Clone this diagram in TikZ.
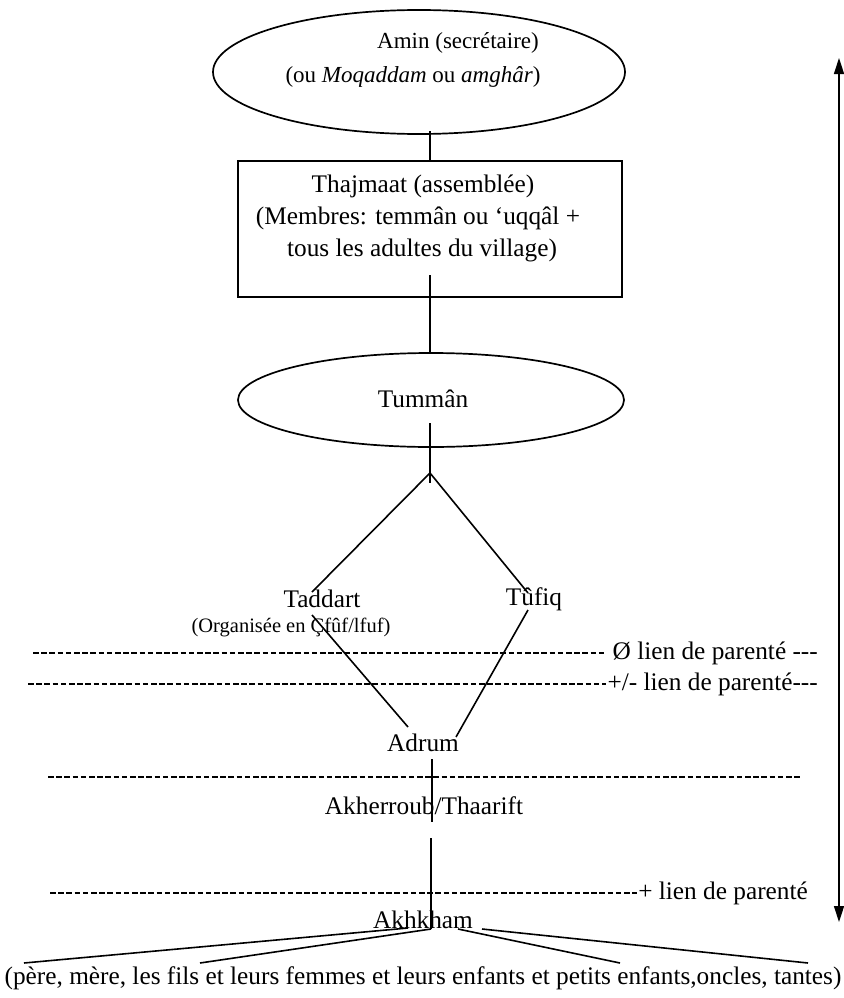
\documentclass[tikz,border=0pt]{standalone}
\usepackage{fontspec}
\setmainfont{Liberation Serif}
\usetikzlibrary{shapes.geometric,arrows.meta}
\begin{document}
\begin{tikzpicture}[x=1pt,y=-1pt,
  ln/.style={line width=1.6pt},
  shp/.style={draw, line width=1.7pt, inner sep=0pt},
  txt/.style={inner sep=0pt, font=\fontsize{25.3}{30}\selectfont},
  toptxt/.style={inner sep=0pt, font=\fontsize{23}{27}\selectfont},
  smalltxt/.style={inner sep=0pt, font=\fontsize{20.5}{24}\selectfont},
  dsh/.style={line width=1.1pt, dash pattern=on 5.5pt off 2.7pt}]
\useasboundingbox (0,0) rectangle (843,998);
% top ellipse
\node[shp, ellipse, minimum width=412pt, minimum height=124pt] (amin) at (419,72) {};
\node[toptxt] (t1) at (458,43) {Amin (secrétaire)};
\node[toptxt] (t2) at (413,77) {(ou \textit{Moqaddam} ou \textit{amghâr})};
% rectangle
\node[shp, rectangle, minimum width=384pt, minimum height=136pt] (thaj) at (430,229) {};
\node[txt] (r1) at (423,186) {Thajmaat (assemblée)};
\node[txt] (r2) at (418,218) {(Membres: temmân ou ‘uqqâl +};
\node[txt] (r3) at (422,250) {tous les adultes du village)};
% tumman
\node[shp, ellipse, minimum width=386pt, minimum height=94pt] (tum) at (431,400) {};
\node[txt] (tumt) at (423,399) {Tummân};
% coordinates
\coordinate (a1) at (430,131);
\coordinate (a2) at (430,161);
\coordinate (b1) at (430,275);
\coordinate (b2) at (430,353);
\coordinate (c1) at (430,423);
\coordinate (c2) at (430,483);
\coordinate (apex) at (430,473);
\coordinate (tl1) at (312,592);
\coordinate (tr1) at (528,593);
\coordinate (tl2) at (312,615);
\coordinate (tr2) at (528,610);
\coordinate (al) at (408,727);
\coordinate (ar) at (456,737);
\coordinate (s1a) at (432,759);
\coordinate (s1b) at (432,822);
\coordinate (s2a) at (431,838);
\coordinate (junc) at (431,929);
\coordinate (f1a) at (408,928);
\coordinate (f1b) at (24,963);
\coordinate (f2b) at (200,963);
\coordinate (f3a) at (458,929);
\coordinate (f3b) at (620,963);
\coordinate (f4a) at (482,929);
\coordinate (f4b) at (808,963);
\draw[ln] (a1) -- (a2);
\draw[ln] (b1) -- (b2);
\draw[ln] (c1) -- (c2);
% branches
\node[txt] (tad) at (322,599) {Taddart};
\node[smalltxt] (org) at (291,627) {(Organisée en Çfûf/lfuf)};
\node[txt] (tuf) at (534,599) {Tûfiq};
\draw[ln] (apex) -- (tl1);
\draw[ln] (apex) -- (tr1);
\draw[ln] (tl2) -- (al);
\draw[ln] (tr2) -- (ar);
\node[txt] (adrum) at (423,743) {Adrum};
\draw[ln] (s1a) -- (s1b);
\node[txt] (akh) at (424,806) {Akherroub/Thaarift};
\draw[ln] (s2a) -- (junc);
\node[txt] (akhk) at (423,920) {Akhkham};
\node[txt] (fam) at (423,978) {(père, mère, les fils et leurs femmes et leurs enfants et petits enfants,oncles, tantes)};
\draw[ln] (f1a) -- (f1b);
\draw[ln] (junc) -- (f2b);
\draw[ln] (f3a) -- (f3b);
\draw[ln] (f4a) -- (f4b);
% dashed lines with labels
\node[txt, anchor=east] (l1) at (818,653) {Ø lien de parenté -{}-{}-};
\node[txt, anchor=east] (l2) at (818,684) {+/- lien de parenté-{}-{}-};
\node[txt, anchor=east] (l4) at (808,893) {+ lien de parenté};
\coordinate (d1a) at (33,653);
\coordinate (d2a) at (28,684);
\coordinate (d3a) at (48,777); \coordinate (d3b) at (800,777);
\coordinate (d4a) at (50,893);
\draw[dsh] (d1a) -- ([xshift=-8pt]l1.west);
\draw[dsh] (d2a) -- ([xshift=-1pt]l2.west);
\draw[dsh] (d3a) -- (d3b);
\draw[dsh] (d4a) -- ([xshift=-1pt]l4.west);
% right arrow
\coordinate (up) at (839,58);
\coordinate (dn) at (839,922);
\draw[line width=1.5pt, {Triangle[length=16pt,width=10pt]}-{Triangle[length=16pt,width=10pt]}] (up) -- (dn);
\end{tikzpicture}
\end{document}
